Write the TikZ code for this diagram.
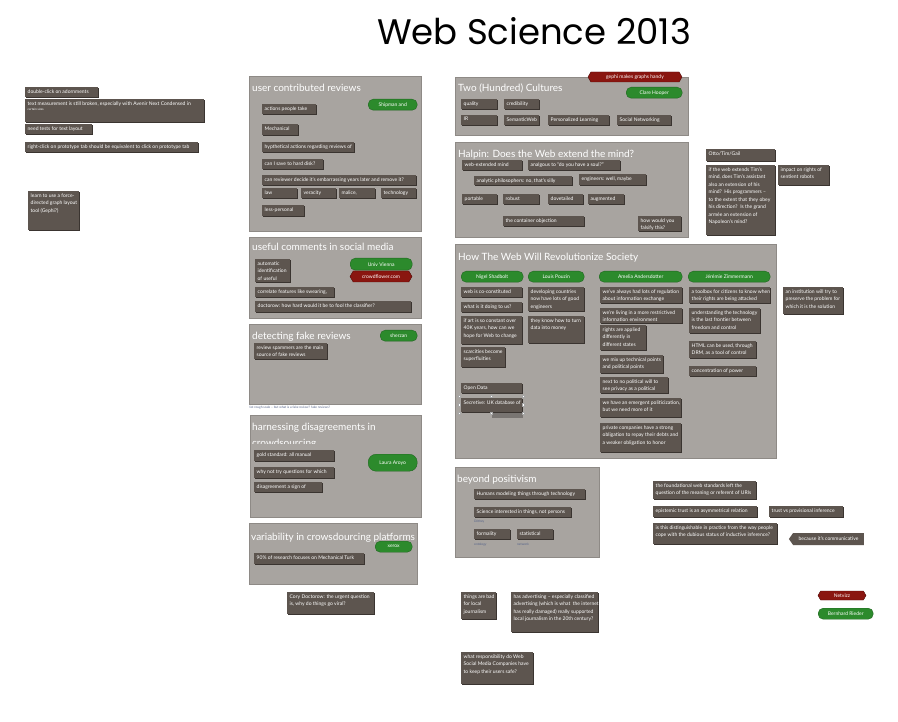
\documentclass[tikz,border=0pt]{standalone}
\usepackage{fontspec}
\setmainfont{Lato}
\newfontfamily\titlefont{Poppins}
\usetikzlibrary{shapes.symbols}
\definecolor{panelfill}{HTML}{A8A4A0}
\definecolor{paneldraw}{HTML}{8E8A86}
\definecolor{notefill}{HTML}{5D554F}
\definecolor{noteshadow}{HTML}{3A3430}
\definecolor{pillgreen}{HTML}{2C8A2C}
\definecolor{tagred}{HTML}{8A1610}
\definecolor{smallblue}{HTML}{56648A}
\tikzset{
  panel/.style={draw=paneldraw, fill=panelfill, line width=1.2pt, inner sep=0pt, rectangle},
  paneltitle/.style={text=white, font=\fontsize{10}{16}\selectfont, anchor=base west, inner sep=0pt},
  notebox/.style={fill=notefill, draw=none, inner sep=0pt, rectangle},
  notetext/.style={text=white, font=\fontsize{5}{7.5}\selectfont, inner sep=0pt, align=left},
  pill/.style={fill=pillgreen, draw=pillgreen!75!black, rounded corners=5pt, text=white,
    font=\fontsize{5}{6}\selectfont, inner sep=0pt, anchor=north west},
  tag/.style={signal, signal to=east and west, signal pointer angle=120, fill=tagred,
    draw=tagred!60!black, text=white, font=\fontsize{5}{6}\selectfont, inner sep=0pt},
  tinytext/.style={text=smallblue, font=\fontsize{3.2}{4}\selectfont, inner sep=0pt, anchor=north west},
  handle/.style={fill=white, draw=gray!70, line width=0.3pt}
}
% name, x, y, w, h, text
\newcommand\mynote[6]{%
  \fill[noteshadow] (#2+1.2,#3+1.2) rectangle ++(#4,#5);
  \node[notebox, minimum width=#4pt, minimum height=#5pt, anchor=north west] (#1) at (#2,#3) {};
  \begin{scope}
    \clip (#1.north west) rectangle (#1.south east);
    \node[notetext, anchor=north west] at ([xshift=2.5pt,yshift=-2.2pt]#1.north west) {#6};
  \end{scope}}
% name, x, y, w, h
\newcommand\mypanel[5]{%
  \node[panel, minimum width=#4pt, minimum height=#5pt, anchor=north west] (#1) at (#2,#3) {};}
\begin{document}
\begin{tikzpicture}[x=1pt,y=-1pt]
\useasboundingbox (0,0) rectangle (898,722);
\fill[white] (0,0) rectangle (898,722);

\node[font=\titlefont\fontsize{35.5}{36}\selectfont, inner sep=0pt] (title) at (534,31) {Web Science 2013};

% ---- left notes
\mynote{n1}{25}{87}{73}{10}{double-click on adornments}
\mynote{n2}{25}{99}{179}{23}{text measurement is still broken, especially with Avenir Next Condensed in\\[-2pt]{\fontsize{3}{4}\selectfont certain sizes}}
\mynote{n3}{25}{124}{67}{10}{need tests for text layout}
\mynote{n4}{25}{142}{173}{10}{right-click on prototype tab should be equivalent to click on prototype tab}
\mynote{n5}{28}{191}{51}{39}{learn to use a force-\\directed graph layout\\tool (Gephi?)}

% ---- user contributed reviews
\mypanel{p1}{249}{76}{172}{155}
\node[paneltitle] (p1t) at (252,92) {user contributed reviews};
\mynote{u1}{262}{104}{54}{10}{actions people take}
\node[pill, minimum width=49pt, minimum height=11pt] (shipman) at (368,99) {Shipman and};
\mynote{u2}{262}{124}{36}{11}{Mechanical}
\mynote{u3}{262}{142}{92}{10}{hypthetical actions regarding reviews of}
\mynote{u4}{262}{159}{61}{10}{can I save to hard disk?}
\mynote{u5}{262}{175}{154}{10}{can reviewer decide it's embarrassing years later and remove it?}
\mynote{u6}{262}{188}{35}{10}{law}
\mynote{u7}{301}{188}{35}{10}{veracity}
\mynote{u8}{339}{188}{36}{10}{malice,}
\mynote{u9}{381}{188}{35}{10}{technology}
\mynote{u10}{262}{205}{42}{11}{less-personal}

% ---- useful comments
\mypanel{p2}{249}{237}{172}{81}
\node[paneltitle] (p2t) at (252,251) {useful comments in social media};
\mynote{c1}{255}{259}{35}{23}{automatic\\identification\\of useful}
\node[pill, minimum width=62pt, minimum height=12pt] (vienna) at (350,258) {Univ Vienna};
\node[tag, minimum width=62pt, minimum height=11pt] (crowdflower) at (381,276.5) {crowdflower.com};
\mynote{c2}{255}{287}{79}{10}{correlate features like swearing,}
\mynote{c3}{255}{301}{156}{11}{doctorow: how hard would it be to fool the classifier?}

% ---- detecting fake reviews
\mypanel{p3}{249}{324}{172}{80}
\node[paneltitle] (p3t) at (252,340) {detecting fake reviews};
\node[pill, minimum width=37pt, minimum height=11pt] (sherzan) at (380,330) {sherzan};
\mynote{f1}{254}{343}{73}{16}{review spammers are the main\\source of fake reviews}
\node[tinytext] (fakenote) at (249,406) {1st rough scale -- but what is a fake review? fake reviews?};

% ---- harnessing disagreements
\mypanel{p4}{250}{415}{171}{102}
\begin{scope}
  \clip (250,415) rectangle (421,443);
  \node[paneltitle, align=left, anchor=north west] (p4t) at (252,423) {harnessing disagreements in\\crowdsourcing};
\end{scope}
\mynote{h1}{254}{450}{80}{11}{gold standard: all manual}
\mynote{h2}{254}{467}{80}{11}{why not try questions for which}
\mynote{h3}{254}{482}{68}{10}{disagreement a sign of}
\node[pill, minimum width=49pt, minimum height=17pt, rounded corners=8pt] (aroyo) at (368,454) {Laura Aroyo};

% ---- variability
\mypanel{p5}{249}{523}{168}{61}
\node[paneltitle] (p5t) at (251,540) {variability in crowsdourcing platforms};
\node[pill, minimum width=37pt, minimum height=11pt] (xerox) at (375,541) {xerox};
\mynote{v1}{254}{553}{110}{11}{90\% of research focuses on Mechanical Turk}

\mynote{cory}{287}{592}{87}{22}{Cory Doctorow: the urgent question\\is, why do things go viral?}

% ---- Two (Hundred) Cultures
\mypanel{p6}{455}{77}{233}{58}
\node[paneltitle] (p6t) at (458,92) {Two (Hundred) Cultures};
\node[tag, minimum width=94pt, minimum height=10pt] (gephi) at (635,77) {gephi makes graphs handy};
\node[pill, minimum width=56pt, minimum height=11pt] (hooper) at (626,87) {Clare Hooper};
\mynote{t1}{461}{99}{36}{10}{quality}
\mynote{t2}{504}{99}{35}{10}{credibility}
\mynote{t3}{461}{115}{36}{10}{IR}
\mynote{t4}{504}{115}{35}{10}{SemanticWeb}
\mynote{t5}{548}{115}{61}{10}{Personalized Learning}
\mynote{t6}{617}{115}{54}{10}{Social Networking}

% ---- Halpin
\mypanel{p7}{455}{142}{233}{95}
\node[paneltitle] (p7t) at (458,158) {Halpin: Does the Web extend the mind?};
\mynote{a1}{462}{160}{60}{10}{web-extended mind}
\mynote{a2}{528}{160}{92}{10}{analgous to “do you have a soul?”}
\mynote{a3}{474}{176}{98}{9}{analytic philosophers: no, that's silly}
\mynote{a4}{579}{174}{67}{11}{engineers: well, maybe}
\mynote{a5}{462}{194}{35}{10}{portable}
\mynote{a6}{503}{194}{36}{10}{robust}
\mynote{a7}{548}{194}{35}{10}{dovetailed}
\mynote{a8}{588}{194}{36}{10}{augmented}
\mynote{a9}{503}{216}{81}{10}{the container objection}
\mynote{a10}{638}{216}{43}{15}{how would you\\falsify this?}

% ---- right notes
\mynote{r1}{706}{149}{69}{12}{Otto/Tim/Gail}
\mynote{r2}{706}{165}{69}{70}{if the web extends Tim's\\mind, does Tim's assistant\\also an extension of his\\mind?\ \ His programmers --\\to the extent that they obey\\his direction?\ \ Is the grand\\armée an extension of\\Napoleon's mind?}
\mynote{r3}{778}{165}{51}{20}{impact on rights of\\sentient robots}

% ---- How The Web Will Revolutionize Society
\mypanel{p8}{455}{244}{321}{214}
\node[paneltitle] (p8t) at (458,261) {How The Web Will Revolutionize Society};
\node[pill, minimum width=62pt, minimum height=11pt] (nigel) at (461,271) {Nigel Shadbolt};
\node[pill, minimum width=56pt, minimum height=11pt] (louis) at (528,271) {Louis Pouzin};
\node[pill, minimum width=83pt, minimum height=11pt] (amelia) at (599,271) {Amelia Andersdotter};
\node[pill, minimum width=82pt, minimum height=11pt] (jeremie) at (688,271) {Jérémie Zimmermann};
\mynote{w1}{461}{287}{61}{10}{web is co-constituted}
\mynote{w2}{461}{302}{61}{10}{what is it doing to us?}
\mynote{w3}{461}{316}{61}{28}{if art is so constant over\\40K years, how can we\\hope for Web to change}
\mynote{w4}{461}{347}{44}{20}{scarcities become\\superfluities}
\mynote{w5}{461}{383}{61}{10}{Open Data}
\fill[paneldraw!85!black] (492,403) rectangle (523,418);
\mynote{w6}{461}{398}{61}{14}{Secretive: UK database of}
\foreach \hx/\hy in {459/396,491/396,523/396,459/404.5,523/404.5,459/413,491/413,523/413}
  \filldraw[handle] (\hx-1.2,\hy-1.2) rectangle (\hx+1.2,\hy+1.2);
\mynote{w7}{528}{287}{56}{24}{developing countries\\now have lots of good\\engineers}
\mynote{w8}{528}{316}{56}{27}{they know how to turn\\data into money}
\mynote{w9}{600}{287}{82}{16}{we've always had lots of regulation\\about information exchange}
\mynote{w10}{600}{308}{82}{15}{we're living in a more restrictived\\information environment}
\mynote{w11}{600}{325}{46}{25}{rights are applied\\differently in\\different states}
\mynote{w12}{600}{355}{63}{18}{we mix up technical points\\and political points}
\mynote{w13}{600}{377}{68}{16}{next to no political will to\\see privacy as a political}
\mynote{w14}{600}{398}{81}{19}{we have an emergent politicization,\\but we need more of it}
\mynote{w15}{600}{423}{81}{29}{private companies have a strong\\obligation to repay their debts and\\a weaker obligation to honor}
\mynote{w16}{689}{287}{81}{16}{a toolbox for citizens to know when\\their rights are being attacked}
\mynote{w17}{689}{308}{71}{25}{understanding the technology\\is the last frontier between\\freedom and control}
\mynote{w18}{689}{341}{67}{17}{HTML can be used, through\\DRM, as a tool of control}
\mynote{w19}{689}{366}{67}{10}{concentration of power}
\mynote{w20}{783}{287}{60}{27}{an institution will try to\\preserve the problem for\\which it is the solution}

% ---- beyond positivism
\mypanel{p9}{455}{467}{144}{90}
\node[paneltitle] (p9t) at (457,482) {beyond positivism};
\mynote{b1}{474}{489}{111}{10}{Humans modeling things through technology}
\mynote{b2}{474}{507}{97}{10}{Science interested in things, not persons}
\node[tinytext] (b2s) at (474,520) {Dilthey};
\mynote{b3}{474}{529}{36}{10}{formality}
\node[tinytext] (b3s) at (474,543) {ontology};
\mynote{b4}{517}{529}{36}{10}{statistical}
\node[tinytext] (b4s) at (517,543) {network};

\mynote{e1}{653}{481}{103}{18}{the foundational web standards left the\\question of the meaning or referent of URIs}
\mynote{e2}{653}{506}{104}{11}{epistemic trust is an asymmetrical relation}
\mynote{e3}{769}{506}{74}{11}{trust vs provisional inference}
\mynote{e4}{653}{523}{124}{21}{is this distinguishable in practice from the way people\\cope with the dubious status of inductive inference?}
\node[signal, signal to=west, signal pointer angle=110, fill=notefill, text=white,
  font=\fontsize{5}{6}\selectfont, inner sep=0pt, minimum width=75pt, minimum height=12pt] (comm) at (828.5,539) {because it's communicative};

% ---- bottom
\mynote{j1}{461}{592}{35}{27}{things are bad\\for local\\journalism}
\mynote{j2}{511}{592}{87}{40}{has advertising -- especially classified\\advertising (which is what\ \ the internet\\has really damaged) really supported\\local journalism in the 20th century?}
\mynote{j3}{461}{652}{72}{32}{what responsibility do Web\\Social Media Companies have\\to keep their users safe?}

\node[tag, minimum width=48pt, minimum height=9pt] (netvizz) at (842,595.5) {Netvizz};
\node[pill, minimum width=55pt, minimum height=11pt] (rieder) at (818,608) {Bernhard Rieder};
\end{tikzpicture}
\end{document}
